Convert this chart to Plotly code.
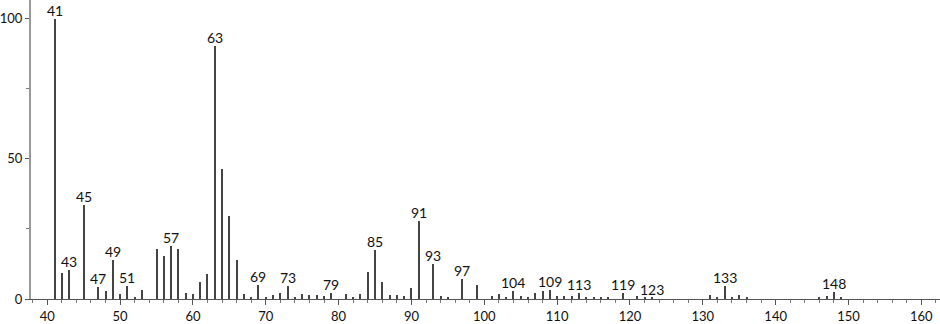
import plotly.graph_objects as go

mz = [41, 42, 43, 45, 47, 48, 49, 50, 51, 52, 53, 55, 56, 57, 58, 59, 60, 61, 62,
      63, 64, 65, 66, 67, 68, 69, 70, 71, 72, 73, 74, 75, 76, 77, 78, 79, 81, 82,
      83, 84, 85, 86, 87, 88, 89, 90, 91, 93, 94, 95, 97, 99, 101, 102, 103, 104,
      105, 106, 107, 108, 109, 110, 111, 112, 113, 114, 115, 116, 117, 119, 121,
      122, 123, 131, 132, 133, 134, 135, 136, 146, 147, 148, 149]
intensity = [100, 9.4, 10.4, 33.5, 4.2, 2.7, 13.8, 1.8, 4.6, 0.6, 3.2, 17.9, 15.4,
             18.8, 17.9, 2.1, 1.8, 5.9, 8.8, 90.1, 46.3, 29.7, 13.8, 1.9, 0.5, 5.1,
             0.7, 1.4, 2.1, 4.8, 0.6, 1.8, 1.4, 1.5, 1.0, 2.0, 1.8, 0.6, 1.8, 9.6,
             17.3, 6.0, 1.4, 1.3, 1.0, 4.0, 27.8, 12.4, 0.9, 0.6, 7.0, 4.9, 1.0, 1.7,
             0.7, 2.9, 0.9, 0.5, 2.0, 2.8, 3.3, 1.0, 1.2, 1.2, 2.3, 0.6, 0.4, 0.5,
             0.5, 2.0, 0.9, 0.8, 0.5, 1.4, 0.6, 4.5, 0.6, 1.4, 0.5, 0.5, 1.2, 2.6, 0.7]
labelled_peaks = [41, 43, 45, 47, 49, 51, 57, 63, 69, 73, 79, 85, 91, 93, 97, 104,
                  109, 113, 119, 123, 133, 148]

x_ticks = [40, 50, 60, 70, 80, 90, 100, 110, 120, 130, 140, 150, 160]
y_ticks = [0, 50, 100]

FONT = "Lato"

fig = go.Figure()
fig.add_trace(go.Bar(
    x=mz, y=intensity, width=0.14,
    marker=dict(color="#444444", line=dict(width=0)),
    hoverinfo="x+y",
))

lookup = dict(zip(mz, intensity))
for p in labelled_peaks:
    fig.add_annotation(
        x=p, y=lookup[p], text=str(p), showarrow=False,
        xanchor="center", yanchor="bottom", yshift=-2,
        font=dict(family=FONT, size=14, color="#111"),
    )

fig.update_layout(
    width=940, height=324,
    margin=dict(l=29, r=0, t=0, b=22, pad=0),
    paper_bgcolor="white", plot_bgcolor="white",
    showlegend=False, bargap=0,
    font=dict(family=FONT, size=13, color="#111"),
)
fig.update_xaxes(
    range=[37.77, 162.56], tickvals=x_ticks, ticktext=[str(v) for v in x_ticks],
    showgrid=False, zeroline=False,
    showline=True, linecolor="#555", linewidth=1,
    ticks="outside", ticklen=5, tickwidth=1, tickcolor="#555",
    minor=dict(dtick=2, tick0=0, ticks="outside", ticklen=3, tickcolor="#777", showgrid=False),
    tickfont=dict(family=FONT, size=13, color="#111"),
)
fig.update_yaxes(
    range=[0, 106.6], tickvals=y_ticks, ticktext=[str(v) for v in y_ticks],
    showgrid=False, zeroline=False,
    showline=True, linecolor="#999", linewidth=2,
    ticks="outside", ticklen=4, tickwidth=1, tickcolor="#555",
    minor=dict(dtick=25, tick0=0, ticks="outside", ticklen=3, tickcolor="#777", showgrid=False),
    tickfont=dict(family=FONT, size=13, color="#111"),
)

fig.write_html("out.html")
